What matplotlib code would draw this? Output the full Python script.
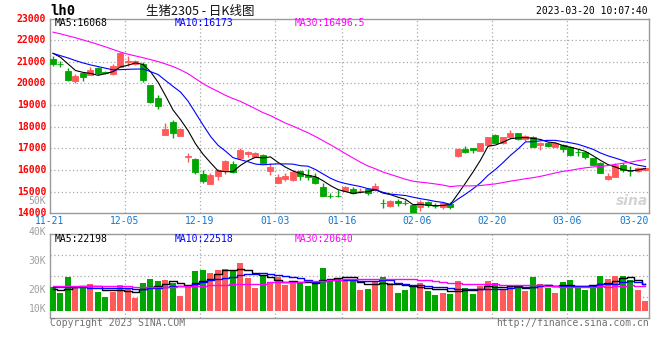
import numpy as np
import matplotlib
matplotlib.use("Agg")
import matplotlib.pyplot as plt

# ---------------- data ----------------
dates = ['11-21', '12-05', '12-19', '01-03', '01-16', '02-06', '02-20', '03-06', '03-20']
date_idx = [0, 10, 20, 30, 39, 49, 59, 69, 79]

opens = [21131, 20910, 20597, 20109, 20460, 20399, 20704, 20510, 20429, 20750,
         21010, 20902, 20902, 19911, 19347, 17623, 18203, 17577, 16620, 16525,
         15824, 15366, 15717, 16022, 16290, 16538, 16738, 16615, 16692, 15953,
         15384, 15584, 15538, 15953, 15769, 15692, 15200, 14810, 14810, 15046,
         15123, 15040, 15123, 15077, 14470, 14338, 14584, 14465, 14384, 14277,
         14538, 14360, 14307, 14416, 16647, 16969, 17015, 16892, 17154, 17615,
         17231, 17508, 17692, 17415, 17508, 17138, 17231, 17077, 17154, 17046,
         16825, 16815, 16538, 16308, 15600, 15692, 16231, 15975, 15954, 15985]
highs = [21283, 21055, 20704, 20445, 20490, 20780, 20750, 20597, 20902, 21451,
         21283, 21085, 20978, 19941, 19484, 18157, 18310, 17928, 16785, 16556,
         16022, 15870, 16053, 16480, 16434, 16999, 16860, 16830, 16722, 16338,
         15815, 15846, 16000, 16000, 16030, 15846, 15415, 14953, 15077, 15261,
         15230, 15154, 15184, 15415, 14646, 14615, 14646, 14615, 14384, 14615,
         14569, 14461, 14538, 14508, 17000, 17108, 17015, 17262, 17539, 17662,
         17539, 17846, 17723, 17615, 17569, 17308, 17308, 17277, 17200, 17108,
         16954, 16846, 16538, 16385, 15846, 16308, 16308, 16185, 16123, 16123]
lows = [20795, 20750, 20094, 20018, 20109, 20368, 20368, 20414, 20399, 20750,
        20826, 20856, 20064, 19103, 18813, 17623, 17501, 17577, 16373, 15824,
        15412, 15366, 15534, 15824, 15870, 16492, 16615, 16584, 16276, 15769,
        15384, 15507, 15507, 15538, 15538, 15338, 14800, 14723, 14738, 15046,
        14892, 14953, 14846, 15046, 14230, 14307, 14338, 14384, 14000, 14123,
        14277, 14230, 14184, 14200, 16616, 16800, 16800, 16892, 17123, 17231,
        17185, 17462, 17385, 17354, 17046, 16923, 17046, 17046, 16846, 16662,
        16662, 16508, 16231, 15846, 15538, 15692, 15923, 15738, 15923, 15954]
closes = [20887, 20900, 20140, 20338, 20292, 20643, 20475, 20505, 20811, 21390,
          21030, 21024, 20140, 19148, 18965, 17898, 17730, 17898, 16640, 15900,
          15488, 15763, 16022, 16434, 15930, 16922, 16845, 16800, 16307, 16153,
          15661, 15738, 15922, 15723, 15692, 15384, 14800, 14800, 14800, 15230,
          14953, 15050, 14953, 15261, 14460, 14584, 14461, 14460, 14030, 14538,
          14384, 14354, 14492, 14308, 16969, 16846, 16923, 17231, 17508, 17262,
          17508, 17723, 17431, 17569, 17077, 17262, 17123, 17231, 16954, 16692,
          16815, 16615, 16231, 15877, 15723, 16231, 16000, 15970, 16077, 16077]
volumes = [20900, 19100, 24600, 20600, 20900, 22200, 19400, 17700, 19400, 21800,
           20200, 17400, 22500, 23900, 23200, 23600, 22500, 18100, 21200, 26700,
           26900, 26000, 27000, 27200, 26900, 29400, 24300, 20800, 24800, 22300,
           24600, 21800, 22600, 22600, 21500, 23200, 27700, 23800, 23800, 23500,
           23500, 20000, 20400, 23100, 24600, 22500, 19100, 20000, 21400, 22500,
           19700, 18300, 19100, 18600, 23100, 20600, 18600, 21400, 23100, 22300,
           20000, 20900, 20800, 19700, 24600, 22100, 20800, 19000, 22800, 23500,
           21200, 20000, 21400, 24900, 23800, 24900, 24900, 23500, 20000, 16300]

# moving-average values before a full window exists
ma5_early = [21390, 21207, 20902, 20597]
ma10_early = [21390, 21283, 21177, 21055, 20948, 20856, 20780, 20704, 20627]
ma30_early = [22370, 22290, 22200, 22110, 22010, 21910, 21800, 21690, 21570, 21450,
              21350, 21270, 21190, 21100, 21010, 20900, 20780, 20630, 20450, 20220,
              19990, 19800, 19630, 19450, 19300, 19170, 19000, 18830, 18650]
vma5_early = [20300, 20100, 20500, 20900]
vma10_early = [21000, 21000, 21000, 21000, 20900, 20800, 20700, 20600, 20600]
vma30_early = [21500, 21500, 21400, 21400, 21400, 21400, 21300, 21300, 21300, 21300,
               21300, 21200, 21200, 21200, 21200, 21200, 21200, 21300, 21300, 21400,
               21500, 21600, 21700, 21800, 21900, 21900, 22000, 22000, 22100]

legend_main = ['MA5:16068', 'MA10:16173', 'MA30:16496.5']
legend_vol = ['MA5:22198', 'MA10:22518', 'MA30:20640']
title_code = 'lh0'
title_text = '生猪2305 - 日K线图'
timestamp = '2023-03-20 10:07:40'
price_ticks = list(range(14000, 23001, 1000))
vol_ticks = [10000, 20000, 30000, 40000, 50000]
vol_tick_labels = ['10K', '20K', '30K', '40K', '50K']

# ---------------- helpers ----------------
def moving_avg(vals, n, early):
    v = np.asarray(vals, dtype=float)
    out = np.convolve(v, np.ones(n) / n, mode='full')[:len(v)]
    out[:n - 1] = early
    return out

W, H = 660, 360
def rect(l, t, r, b):
    return [l / W, 1 - b / H, (r - l) / W, (b - t) / H]

RED = '#FF5A5A'
GREEN = '#00A600'
GRID = '#A8A8A8'
SPINE = '#999999'
MA_COLORS = ['#000000', '#0000FF', '#FF00FF']
MONO = 'DejaVu Sans Mono'

o = np.array(opens, float); h = np.array(highs, float)
l = np.array(lows, float); c = np.array(closes, float)
vol = np.array(volumes, float)
x = np.arange(len(c))
colors = np.where(c >= o, RED, GREEN)

fig = plt.figure(figsize=(6.6, 3.6), dpi=100)
fig.patch.set_facecolor('white')

ax = fig.add_axes(rect(50, 18.5, 649, 213.3))
axv = fig.add_axes(rect(50, 234, 649, 317.7))

xlim = (-0.4, 79.47)
grid_x = [d - 0.4 for d in date_idx[1:-1]]

# ---------------- price panel ----------------
ax.set_xlim(*xlim)
ax.set_ylim(14000, 23000)
ax.set_yticks(price_ticks[1:-1])
ax.set_xticks(grid_x)
ax.grid(True, color=GRID, linestyle=(0, (1, 2)), linewidth=0.9)
ax.tick_params(length=0, labelleft=False, labelbottom=False)
for s in ax.spines.values():
    s.set_color(SPINE); s.set_linewidth(1)

ax.vlines(x, l, h, colors=colors, linewidth=1, zorder=3)
ax.bar(x, np.abs(c - o), bottom=np.minimum(o, c), width=0.8, color=colors,
       edgecolor=colors, linewidth=0.6, zorder=4)
for n, early, col in zip([5, 10, 30], [ma5_early, ma10_early, ma30_early], MA_COLORS):
    ax.plot(x, moving_avg(c, n, early), color=col, linewidth=0.8, zorder=5)

ytr = ax.get_yaxis_transform()
for v in price_ticks:
    ax.text(-4 / 599, v, str(v), transform=ytr, ha='right', va='center',
            color='#FF0000', fontsize=7, family=MONO, fontweight='bold')

for lbl, xx, col in zip(legend_main, [55, 175, 295], MA_COLORS):
    fig.text(xx / W, 1 - 23.5 / H, lbl, color=col, fontsize=7, family=MONO,
             va='center', ha='left')

xtr = ax.get_xaxis_transform()
date_y = -8.0 / 194.8  # label centre ~8 px below the price axis
for d, lbl in zip(date_idx, dates):
    if d == date_idx[-1]:
        ax.text(1.0, date_y, lbl, transform=ax.transAxes, ha='right', va='center',
                color='#1177CC', fontsize=7, family=MONO)
    else:
        ax.text(d - 0.4, date_y, lbl, transform=xtr, ha='center', va='center',
                color='#1177CC', fontsize=7, family=MONO)

# ---------------- volume panel ----------------
vol_lo, vol_hi = 10448, 39310
vol_base = 12760
axv.set_xlim(*xlim)
axv.set_ylim(vol_lo, vol_hi)
axv.set_yticks([vol_lo + (vol_hi - vol_lo) * f for f in (0.25, 0.5, 0.75)])
axv.set_xticks(grid_x)
axv.grid(True, color=GRID, linestyle=(0, (1, 2)), linewidth=0.9)
axv.tick_params(length=0, labelleft=False, labelbottom=False)
for s in axv.spines.values():
    s.set_color(SPINE); s.set_linewidth(1)

axv.bar(x, vol - vol_base, bottom=vol_base, width=0.8, color=colors, linewidth=0, zorder=3)
for n, early, col in zip([5, 10, 30], [vma5_early, vma10_early, vma30_early], MA_COLORS):
    axv.plot(x, moving_avg(vol, n, early), color=col, linewidth=1.0,
             drawstyle='steps-mid', zorder=5)

vtr = axv.get_yaxis_transform()
for v, lbl in zip(vol_ticks, vol_tick_labels):
    yv = max(v, 13400)  # lowest label is lifted above the panel floor
    yv = yv + 800 if v == 50000 else yv
    axv.text(-4 / 599, yv, lbl, transform=vtr, ha='right', va='center',
             color='#A0A0A0', fontsize=7, family=MONO, clip_on=False)

for lbl, xx, col in zip(legend_vol, [55, 175, 295], MA_COLORS):
    fig.text(xx / W, 1 - 239.5 / H, lbl, color=col, fontsize=7, family=MONO,
             va='center', ha='left')

# ---------------- header / footer ----------------
fig.text(50 / W, 1 - 11 / H, title_code, fontsize=10, family=MONO, fontweight='bold',
         va='center', ha='left', color='#000000')
fig.text(200 / W, 1 - 11 / H, title_text, fontsize=9,
         family=['Noto Sans CJK SC', 'DejaVu Sans'], va='center', ha='center', color='#111111')
fig.text(648 / W, 1 - 11.5 / H, timestamp, fontsize=7, family=MONO, va='center',
         ha='right', color='#000000')
fig.text(50 / W, 1 - 323 / H, 'Copyright 2023 SINA.COM', fontsize=7, family=MONO,
         va='center', ha='left', color='#707070')
fig.text(649 / W, 1 - 323 / H, 'http://finance.sina.com.cn', fontsize=7, family=MONO,
         va='center', ha='right', color='#707070')
fig.text(648 / W, 1 - 201 / H, 'sina', fontsize=10, fontweight='bold', style='italic',
         va='center', ha='right', color='#C8C8C8', alpha=0.8)

fig.savefig('out.png', dpi=100)
